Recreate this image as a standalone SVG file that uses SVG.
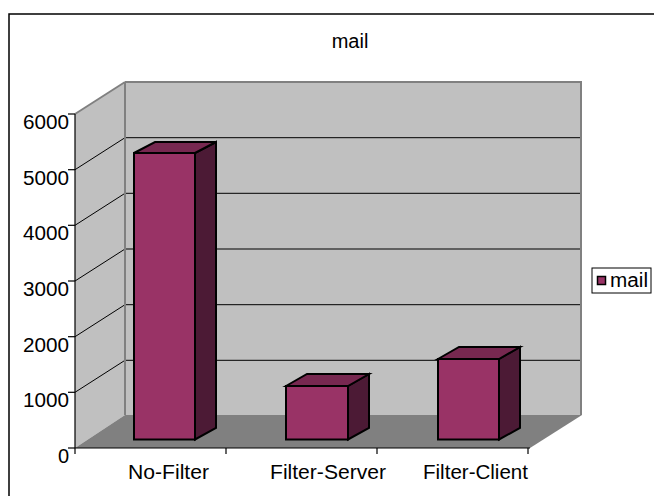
<svg xmlns="http://www.w3.org/2000/svg" width="654" height="496" viewBox="0 0 654 496">
<style>
text{font-family:"Liberation Sans",Arial,sans-serif;fill:#000}
.ax{font-size:20px;text-anchor:end}
.cat{font-size:20px;text-anchor:middle}
.grid{stroke:#000;stroke-width:1;fill:none}
.edge{stroke:#808080;stroke-width:2;fill:none}
.front{fill:#993366;stroke:#000;stroke-width:2;stroke-linejoin:miter}
.top{fill:#772850;stroke:#000;stroke-width:2}
.side{fill:#4C1A35;stroke:#000;stroke-width:2}
</style>
<rect x="0" y="0" width="654" height="496" fill="#fff"/>
<rect x="9" y="14" width="700" height="560" fill="none" stroke="#000" stroke-width="1.5"/>
<text x="350" y="48" style="font-size:20px;text-anchor:middle">mail</text>
<g id="plot">
<polygon points="125,82 582,82 582,415 125,415" fill="#C0C0C0"/>
<polygon points="75,114 125,82 125,415 75,448" fill="#C0C0C0"/>
<polygon points="75,448 125,415 582,415 530,448" fill="#808080"/>
<g class="grid">
<line x1="125" y1="137.7" x2="582" y2="137.7"/>
<line x1="125" y1="193.3" x2="582" y2="193.3"/>
<line x1="125" y1="249" x2="582" y2="249"/>
<line x1="125" y1="304.7" x2="582" y2="304.7"/>
<line x1="125" y1="360.3" x2="582" y2="360.3"/>
<line x1="75" y1="169.7" x2="125" y2="137.7"/>
<line x1="75" y1="225.3" x2="125" y2="193.3"/>
<line x1="75" y1="281" x2="125" y2="249"/>
<line x1="75" y1="336.7" x2="125" y2="304.7"/>
<line x1="75" y1="392.3" x2="125" y2="360.3"/>
</g>
<g class="edge">
<line x1="125" y1="82" x2="582" y2="82"/>
<line x1="75" y1="114" x2="125" y2="82"/>
<line x1="125" y1="82" x2="125" y2="415"/>
<line x1="581" y1="82" x2="581" y2="415"/>
</g>
<g stroke="#000" stroke-width="1.2" fill="none">
<line x1="75" y1="114" x2="75" y2="448"/>
<line x1="75" y1="448" x2="530" y2="448"/>
<line x1="68" y1="114" x2="75" y2="114"/>
<line x1="68" y1="169.7" x2="75" y2="169.7"/>
<line x1="68" y1="225.3" x2="75" y2="225.3"/>
<line x1="68" y1="281" x2="75" y2="281"/>
<line x1="68" y1="336.7" x2="75" y2="336.7"/>
<line x1="68" y1="392.3" x2="75" y2="392.3"/>
<line x1="68" y1="448" x2="75" y2="448"/>
<line x1="75" y1="448" x2="75" y2="454"/>
<line x1="226" y1="448" x2="226" y2="454"/>
<line x1="377" y1="448" x2="377" y2="454"/>
<line x1="528" y1="448" x2="528" y2="454"/>
</g>
</g>
<g id="y-axis-labels">
<text class="ax" x="69" y="129" textLength="46" lengthAdjust="spacingAndGlyphs">6000</text>
<text class="ax" x="69" y="184.7" textLength="46" lengthAdjust="spacingAndGlyphs">5000</text>
<text class="ax" x="69" y="240.3" textLength="46" lengthAdjust="spacingAndGlyphs">4000</text>
<text class="ax" x="69" y="296" textLength="46" lengthAdjust="spacingAndGlyphs">3000</text>
<text class="ax" x="69" y="351.7" textLength="46" lengthAdjust="spacingAndGlyphs">2000</text>
<text class="ax" x="69" y="407.3" textLength="46" lengthAdjust="spacingAndGlyphs">1000</text>
<text class="ax" x="69" y="463">0</text>
</g>
<g id="x-axis-labels">
<text class="cat" x="168.5" y="479" textLength="81" lengthAdjust="spacingAndGlyphs">No-Filter</text>
<text class="cat" x="328" y="479" textLength="116" lengthAdjust="spacingAndGlyphs">Filter-Server</text>
<text class="cat" x="475.5" y="479" textLength="105" lengthAdjust="spacingAndGlyphs">Filter-Client</text>
</g>
<g id="bar-no-filter">
<polygon class="side" points="195,153 216,142 216,428 195,439.5"/>
<polygon class="top" points="134,153 155,142 216,142 195,153"/>
<rect class="front" x="134" y="153" width="61" height="286.5"/>
</g>
<g id="bar-filter-server">
<polygon class="side" points="348,386 369,374 369,428 348,439.5"/>
<polygon class="top" points="286,386 307,374 369,374 348,386"/>
<rect class="front" x="286" y="386" width="62" height="53.5"/>
</g>
<g id="bar-filter-client">
<polygon class="side" points="499,359 520,347 520,428 499,439.5"/>
<polygon class="top" points="438,359 459,347 520,347 499,359"/>
<rect class="front" x="438" y="359" width="61" height="80.5"/>
</g>
<g id="legend">
<rect x="592" y="268" width="59" height="25" fill="#fff" stroke="#000" stroke-width="1"/>
<rect x="597.5" y="276.5" width="8" height="8" fill="#993366" stroke="#000" stroke-width="1.5"/>
<text x="610" y="287" style="font-size:20px" textLength="38" lengthAdjust="spacingAndGlyphs">mail</text>
</g>
</svg>
